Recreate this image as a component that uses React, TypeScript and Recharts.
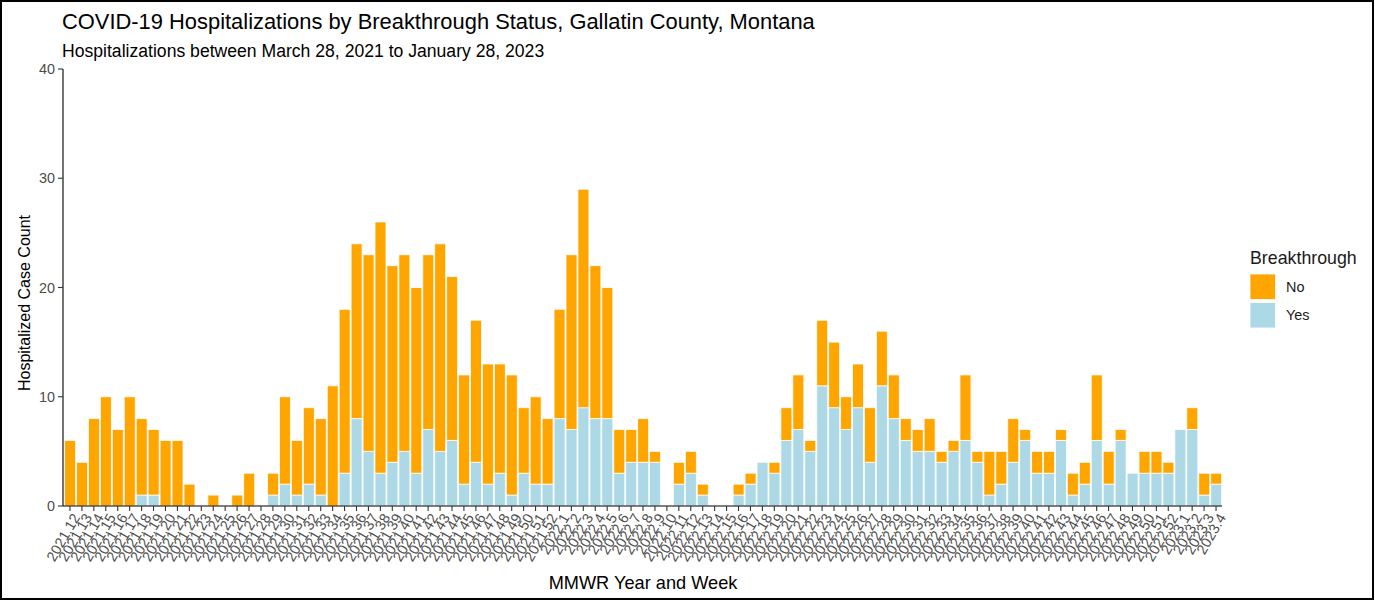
import React from 'react';
import { BarChart, Bar, XAxis, YAxis, Legend } from 'recharts';

const weeks = [
  '2021.12','2021.13','2021.14','2021.15','2021.16','2021.17','2021.18','2021.19','2021.20','2021.21',
  '2021.22','2021.23','2021.24','2021.25','2021.26','2021.27','2021.28','2021.29','2021.30','2021.31',
  '2021.32','2021.33','2021.34','2021.35','2021.36','2021.37','2021.38','2021.39','2021.40','2021.41',
  '2021.42','2021.43','2021.44','2021.45','2021.46','2021.47','2021.48','2021.49','2021.50','2021.51',
  '2021.52',
  '2022.1','2022.2','2022.3','2022.4','2022.5','2022.6','2022.7','2022.8','2022.9','2022.10',
  '2022.11','2022.12','2022.13','2022.14','2022.15','2022.16','2022.17','2022.18','2022.19','2022.20',
  '2022.21','2022.22','2022.23','2022.24','2022.25','2022.26','2022.27','2022.28','2022.29','2022.30',
  '2022.31','2022.32','2022.33','2022.34','2022.35','2022.36','2022.37','2022.38','2022.39','2022.40',
  '2022.41','2022.42','2022.43','2022.44','2022.45','2022.46','2022.47','2022.48','2022.49','2022.50',
  '2022.51','2022.52',
  '2023.1','2023.2','2023.3','2023.4',
];

// Breakthrough = Yes
const yesCounts = [
  0,0,0,0,0,0,1,1,0,0,
  0,0,0,0,0,0,0,1,2,1,
  2,1,0,3,8,5,3,4,5,3,
  7,5,6,2,4,2,3,1,3,2,
  2,
  8,7,9,8,8,3,4,4,4,0,
  2,3,1,0,0,1,2,4,3,6,
  7,5,11,9,7,9,4,11,8,6,
  5,5,4,5,6,4,1,2,4,6,
  3,3,6,1,2,6,2,6,3,3,
  3,3,
  7,7,1,2,
];

// Breakthrough = No
const noCounts = [
  6,4,8,10,7,10,7,6,6,6,
  2,0,1,0,1,3,0,2,8,5,
  7,7,11,15,16,18,23,18,18,17,
  16,19,15,10,13,11,10,11,6,8,
  6,
  10,16,20,14,12,4,3,4,1,0,
  2,2,1,0,0,1,1,0,1,3,
  5,1,6,6,3,4,5,5,4,2,
  2,3,1,1,6,1,4,3,4,1,
  2,2,1,2,2,6,3,1,0,2,
  2,1,
  0,2,2,1,
];

const yTicks = [0, 10, 20, 30, 40];
const legendLabels = ['No', 'Yes'];
const legendColors = ['#FFA500', '#ADD8E6'];

const titleText = 'COVID-19 Hospitalizations by Breakthrough Status, Gallatin County, Montana';
const subtitleText = 'Hospitalizations between March 28, 2021 to January 28, 2023';
const xTitle = 'MMWR Year and Week';
const yTitle = 'Hospitalized Case Count';
const legendTitle = 'Breakthrough';

const FONT = '"Liberation Sans", Arial, Helvetica, sans-serif';

const data = weeks.map((w, i) => ({ week: w, Yes: yesCounts[i], No: noCounts[i] }));

const XTick = (props: any) => {
  const { x, y, payload } = props;
  return (
    <g transform={`translate(${x + 3},${y})`}>
      <text
        x={0}
        y={0}
        dy="0.6em"
        textAnchor="end"
        transform="rotate(-60)"
        fontSize={14.4}
        fontFamily={FONT}
        fill="#4d4d4d"
      >
        {payload.value}
      </text>
    </g>
  );
};

const LegendBox = () => (
  <svg width={130} height={95} style={{ display: 'block' }}>
    <text x={5} y={19} fontSize={17.8} fontFamily={FONT} fill="#1a1a1a">
      {legendTitle}
    </text>
    {legendLabels.map((lab, i) => (
      <g key={lab}>
        <rect
          x={5}
          y={29 + i * 28.5}
          width={25.5}
          height={25.5}
          fill={legendColors[i]}
          stroke="#ffffff"
          strokeWidth={0.8}
        />
        <text
          x={41}
          y={29 + i * 28.5 + 12.75}
          dy="0.35em"
          fontSize={14.4}
          fontFamily={FONT}
          fill="#1a1a1a"
        >
          {lab}
        </text>
      </g>
    ))}
  </svg>
);

export default function App() {
  return (
    <div
      style={{
        position: 'absolute',
        left: 0,
        top: 0,
        width: 1375,
        height: 601,
        background: '#ffffff',
        fontFamily: FONT,
      }}
    >
      <BarChart
        width={1375}
        height={601}
        data={data}
        margin={{ top: 69, right: 153, bottom: 25, left: 8 }}
        barCategoryGap="5%"
      >
        <XAxis
          dataKey="week"
          interval={0}
          tick={<XTick />}
          tickSize={5}
          tickLine={{ stroke: '#333333', strokeWidth: 1.1 }}
          axisLine={{ stroke: '#000000', strokeWidth: 1.1 }}
          height={70}
          padding={{ left: 1, right: 0 }}
        />
        <YAxis
          type="number"
          domain={[0, 40]}
          ticks={yTicks}
          width={55}
          tickSize={5}
          tickMargin={3}
          tick={{ fill: '#4d4d4d', fontSize: 14.4, fontFamily: FONT }}
          tickLine={{ stroke: '#333333', strokeWidth: 1.1 }}
          axisLine={{ stroke: '#000000', strokeWidth: 1.1 }}
        />
        <Legend
          layout="vertical"
          align="center"
          verticalAlign="middle"
          content={<LegendBox />}
          wrapperStyle={{ left: 1245, top: 245, width: 130, height: 95 }}
        />
        <Bar
          dataKey="Yes"
          stackId="a"
          fill="#ADD8E6"
          stroke="#ffffff"
          strokeWidth={0.8}
          isAnimationActive={false}
        />
        <Bar
          dataKey="No"
          stackId="a"
          fill="#FFA500"
          stroke="#ffffff"
          strokeWidth={0.8}
          isAnimationActive={false}
        />
      </BarChart>
      <svg
        width={1375}
        height={601}
        style={{ position: 'absolute', left: 0, top: 0, pointerEvents: 'none' }}
      >
        <rect x={1} y={1} width={1372} height={598} fill="none" stroke="#000000" strokeWidth={2} />
        <text x={62} y={29} fontSize={21.9} fontFamily={FONT} fill="#000000">
          {titleText}
        </text>
        <text x={62} y={57} fontSize={17.6} fontFamily={FONT} fill="#000000">
          {subtitleText}
        </text>
        <text x={643} y={589} fontSize={18.2} fontFamily={FONT} fill="#000000" textAnchor="middle">
          {xTitle}
        </text>
        <text
          x={0}
          y={0}
          fontSize={16}
          fontFamily={FONT}
          fill="#000000"
          textAnchor="middle"
          transform="translate(30,303) rotate(-90)"
        >
          {yTitle}
        </text>
      </svg>
    </div>
  );
}
